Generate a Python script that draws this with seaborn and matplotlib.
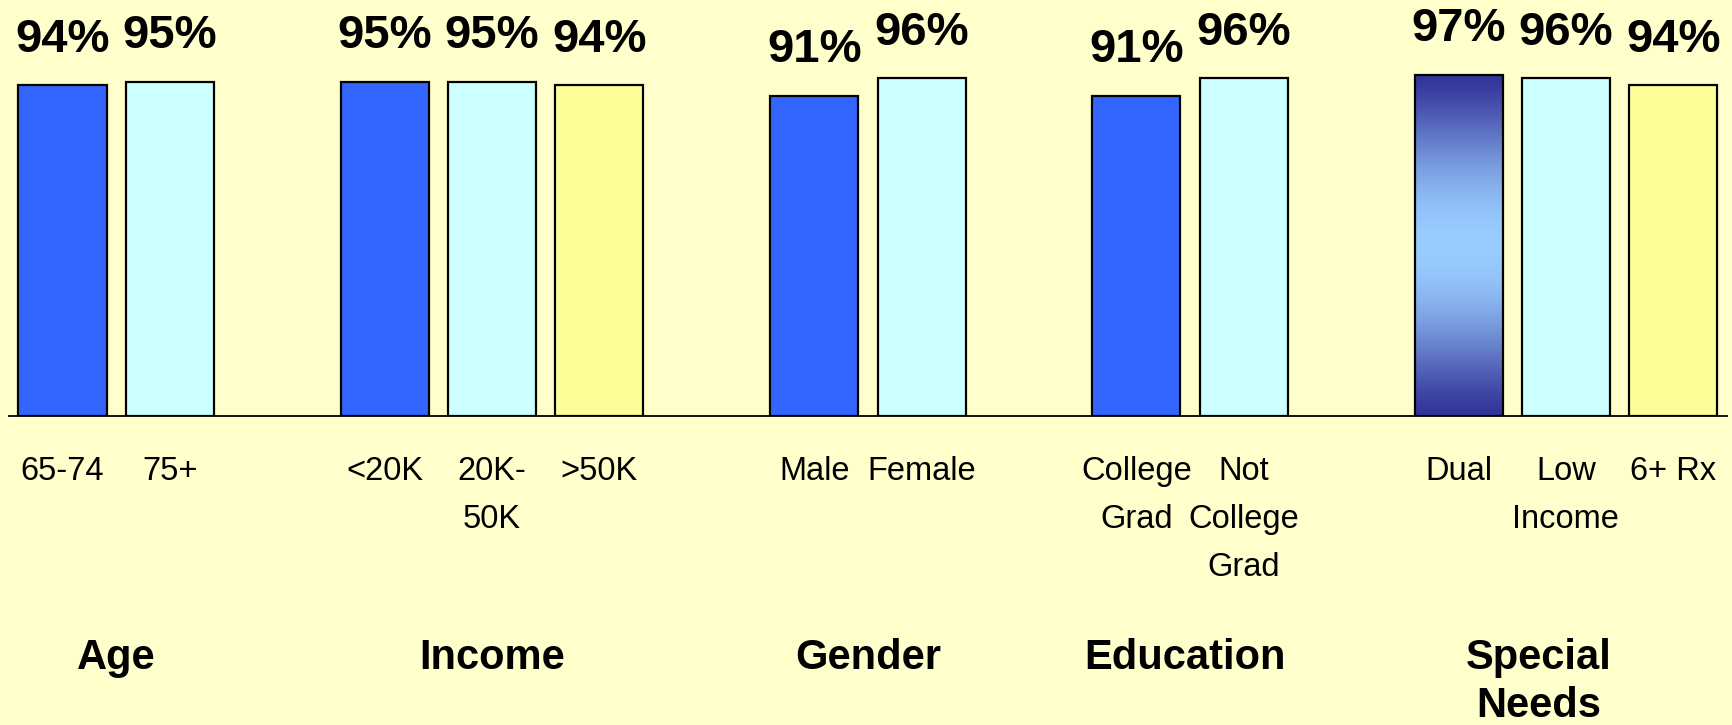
import numpy as np
import pandas as pd
import matplotlib
matplotlib.use('Agg')
import matplotlib.pyplot as plt
import matplotlib.transforms as mtransforms
import seaborn as sns

# --- data ---
categories = ['65-74', '75+', '<20K', '20K-\n50K', '>50K', 'Male', 'Female',
              'College\nGrad', 'Not\nCollege\nGrad', 'Dual', 'Low\nIncome', '6+ Rx']
values = [94, 95, 95, 95, 94, 91, 96, 91, 96, 97, 96, 94]
groups = ['Age', 'Income', 'Gender', 'Education', 'Special\nNeeds']

# --- layout / style ---
slots = [0, 1, 3, 4, 5, 7, 8, 10, 11, 13, 14, 15]
group_label_x = [0.5, 4.0, 7.5, 10.45, 13.75]
bar_colors = ['#3366FF', '#CCFFFF', '#3366FF', '#CCFFFF', '#FFFF99', '#3366FF', '#CCFFFF',
              '#3366FF', '#CCFFFF', '#333399', '#CCFFFF', '#FFFF99']
bg = '#FFFFCC'

sns.set_style('white')
plt.rcParams['font.family'] = ['Liberation Sans', 'DejaVu Sans']
plt.rcParams['text.color'] = 'black'
plt.rcParams['xtick.color'] = 'black'
plt.rcParams['xtick.labelcolor'] = 'black'

df = pd.DataFrame({'pos': slots, 'value': values, 'cat': categories})

fig = plt.figure(figsize=(17.32, 7.25), dpi=100, facecolor=bg)
ax = fig.add_axes([8.8 / 1732, 1 - 416 / 725, (1727 - 8.8) / 1732, 416 / 725])
ax.set_facecolor(bg)

sns.barplot(data=df, x='pos', y='value', hue='cat', palette=bar_colors,
            native_scale=True, dodge=False, width=0.82, legend=False, saturation=1,
            edgecolor='black', linewidth=1.6, ax=ax)

ax.set_xlim(-0.5, 15.5)
ax.set_ylim(0, 416 / 3.52)

# gradient fill for the "Dual" bar
dual = [p for p in ax.patches if abs(p.get_x() + p.get_width() / 2 - 13) < 0.01][0]
t = np.linspace(0, 1, 256)
shade = np.sin(np.pi * t) ** 1.3
dark = np.array([0x33, 0x33, 0x99]) / 255
light = np.array([0x99, 0xCC, 0xFF]) / 255
grad = dark[None, :] + (light - dark)[None, :] * shade[:, None]
grad = grad[:, None, :]
x0, y0 = dual.get_x(), dual.get_y()
im = ax.imshow(grad, extent=[x0, x0 + dual.get_width(), y0, y0 + dual.get_height()],
               aspect='auto', origin='lower', zorder=dual.get_zorder() - 0.1)
im.set_clip_path(dual)
dual.set_facecolor('none')
ax.set_xlim(-0.5, 15.5)
ax.set_ylim(0, 416 / 3.52)

# value labels
for p, v in zip(sorted(ax.patches, key=lambda q: q.get_x()), values):
    ax.annotate(f'{v}%', (p.get_x() + p.get_width() / 2, p.get_height()),
                xytext=(0, 24), textcoords='offset points', ha='center', va='baseline',
                fontsize=34, fontweight='bold', color='black')

# axes / ticks
for s in ['left', 'right', 'top']:
    ax.spines[s].set_visible(False)
ax.spines['bottom'].set_color('black')
ax.spines['bottom'].set_linewidth(1.3)
ax.set_yticks([])
ax.set_ylabel('')
ax.set_xlabel('')
ax.set_xticks(slots)
ax.set_xticklabels(categories, fontsize=23.5, linespacing=1.7, color='black')
ax.set_xticks([-0.5, 2.5, 5.5, 8.5, 11.5, 14.5], minor=True)
ax.tick_params(axis='x', which='major', length=0, pad=29)
ax.tick_params(axis='x', which='minor', direction='out', length=12, width=1.2, color='black')

# group labels
trans = mtransforms.blended_transform_factory(ax.transData, fig.transFigure)
for gx, g in zip(group_label_x, groups):
    ax.text(gx, 1 - 638 / 725, g, transform=trans, ha='center', va='top',
            fontsize=30, fontweight='bold', linespacing=1.25, clip_on=False, color='black')

fig.savefig('out.png', dpi=100, facecolor=bg)
